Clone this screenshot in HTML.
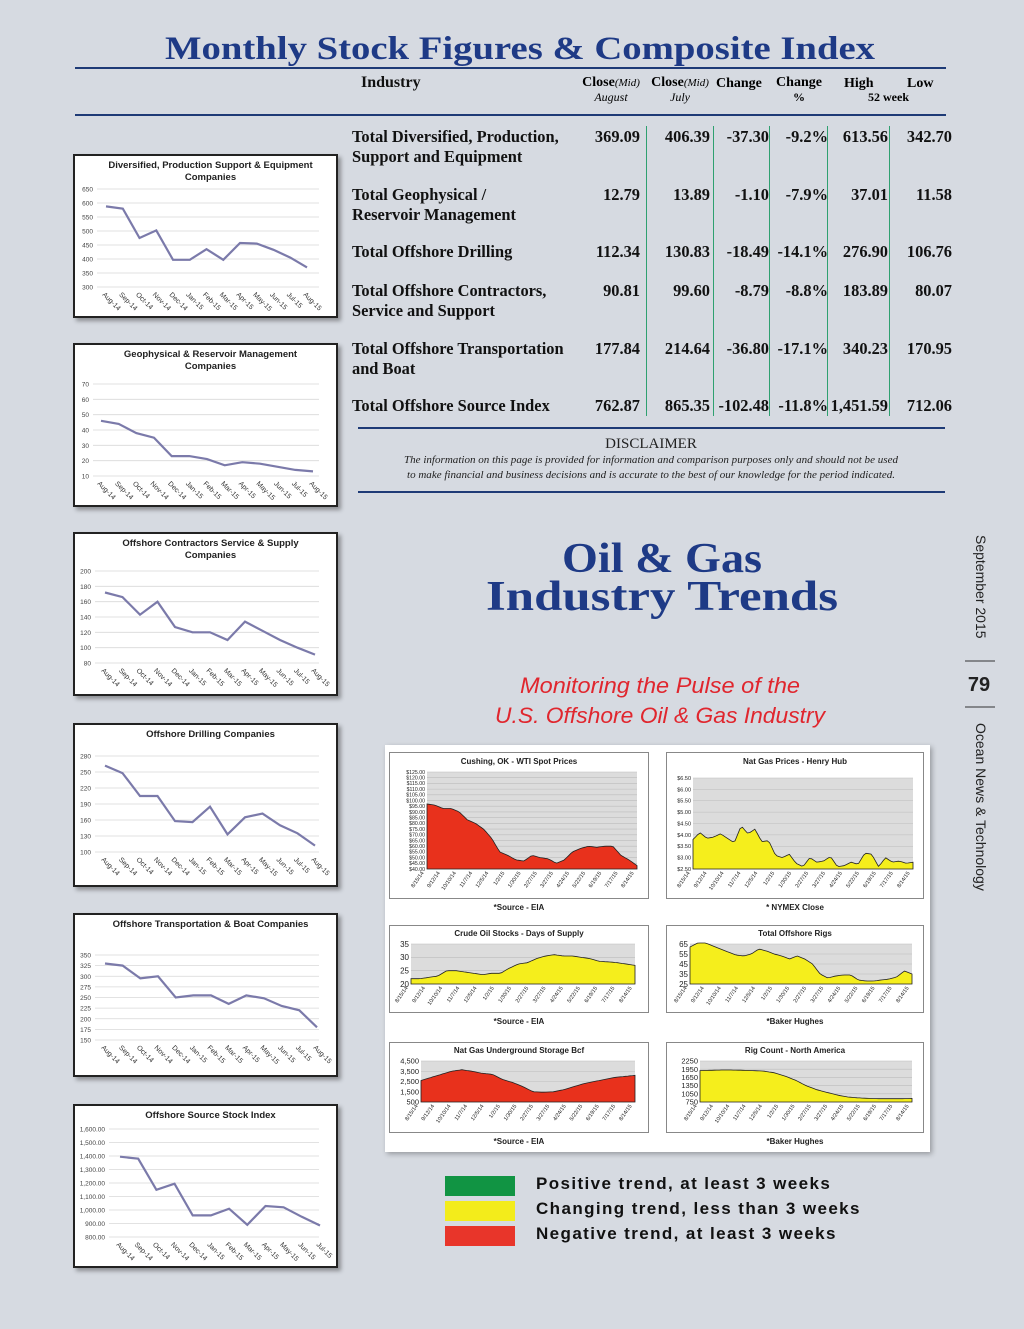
<!DOCTYPE html>
<html><head><meta charset="utf-8">
<style>
html,body{margin:0;padding:0}
body{width:1024px;height:1329px;background:#d6dae1;position:relative;overflow:hidden;font-family:"Liberation Serif",serif}
.a{position:absolute;white-space:nowrap}
.t{font-family:"Liberation Serif",serif;font-weight:bold;font-size:16.4px;color:#111}
.n{text-align:right}
.vl{position:absolute;width:1px;background:#2fa070;top:126px;height:290px}
.box{position:absolute;background:#fff;border:2px solid #222;box-shadow:3px 3px 4px rgba(0,0,0,.35)}
.lg{position:absolute;left:445px;width:70px;height:20px}
.lt{position:absolute;left:536px;font-family:"Liberation Sans",sans-serif;font-weight:bold;font-size:17px;letter-spacing:1.4px;color:#111}
</style></head><body>
<svg class="a" style="left:0;top:0" width="1024" height="130">
<text x="520" y="59" text-anchor="middle" textLength="710" lengthAdjust="spacingAndGlyphs" font-family="Liberation Serif" font-weight="bold" font-size="33" fill="#1e3a86">Monthly Stock Figures &amp; Composite Index</text>
<line x1="75" y1="68" x2="946" y2="68" stroke="#1e3a76" stroke-width="2"/>
<line x1="75" y1="115" x2="946" y2="115" stroke="#1e3a76" stroke-width="2"/>
</svg>
<div class="a t" style="left:361px;top:74px;font-size:16px">Industry</div>
<div class="a" style="left:578px;top:76px;font-size:14px;font-weight:bold;line-height:14px;text-align:center;width:66px">Close<i style="font-weight:normal;font-size:11px">(Mid)</i><br><i style="font-weight:normal;font-size:12px">August</i></div>
<div class="a" style="left:649px;top:76px;font-size:14px;font-weight:bold;line-height:14px;text-align:center;width:62px">Close<i style="font-weight:normal;font-size:11px">(Mid)</i><br><i style="font-weight:normal;font-size:12px">July</i></div>
<div class="a" style="left:716px;top:76px;font-size:14px;font-weight:bold">Change</div>
<div class="a" style="left:773px;top:76px;font-size:14px;font-weight:bold;line-height:14px;text-align:center;width:52px">Change<br><span style="font-size:12px">%</span></div>
<div class="a" style="left:844px;top:76px;font-size:14px;font-weight:bold">High</div>
<div class="a" style="left:907px;top:76px;font-size:14px;font-weight:bold">Low</div>
<div class="a" style="left:868px;top:90px;font-size:12px;font-weight:bold">52 week</div>

<div class="vl" style="left:646px"></div><div class="vl" style="left:713px"></div><div class="vl" style="left:769px"></div><div class="vl" style="left:827px"></div><div class="vl" style="left:889px"></div>
<div id="rows"></div>

<svg class="a" style="left:0;top:420px" width="1024" height="80">
<line x1="358" y1="8" x2="945" y2="8" stroke="#1e3a76" stroke-width="2"/>
<line x1="358" y1="72" x2="945" y2="72" stroke="#1e3a76" stroke-width="2"/>
<text x="651" y="28" text-anchor="middle" font-family="Liberation Serif" font-size="15" fill="#222">DISCLAIMER</text>
<text x="651" y="43" text-anchor="middle" textLength="494" lengthAdjust="spacingAndGlyphs" font-family="Liberation Serif" font-style="italic" font-size="10.5" fill="#222">The information on this page is provided for information and comparison purposes only and should not be used</text>
<text x="651" y="58" text-anchor="middle" textLength="488" lengthAdjust="spacingAndGlyphs" font-family="Liberation Serif" font-style="italic" font-size="10.5" fill="#222">to make financial and business decisions and is accurate to the best of our knowledge for the period indicated.</text>
</svg>

<svg class="a" style="left:380px;top:530px" width="560" height="210">
<text x="282" y="42" text-anchor="middle" textLength="200" lengthAdjust="spacingAndGlyphs" font-family="Liberation Serif" font-weight="bold" font-size="42" fill="#1e3a86">Oil &amp; Gas</text>
<text x="282" y="80" text-anchor="middle" textLength="352" lengthAdjust="spacingAndGlyphs" font-family="Liberation Serif" font-weight="bold" font-size="42" fill="#1e3a86">Industry Trends</text>
<text x="280" y="163" text-anchor="middle" textLength="280" lengthAdjust="spacingAndGlyphs" font-family="Liberation Sans" font-style="italic" font-size="22" fill="#e0262e">Monitoring the Pulse of the</text>
<text x="280" y="193" text-anchor="middle" textLength="330" lengthAdjust="spacingAndGlyphs" font-family="Liberation Sans" font-style="italic" font-size="22" fill="#e0262e">U.S. Offshore Oil &amp; Gas Industry</text>
</svg>

<svg class="a" style="left:950px;top:520px" width="74" height="400">
<text transform="translate(26,15) rotate(90)" font-family="Liberation Sans" font-size="14" fill="#222">September 2015</text>
<line x1="15" y1="141" x2="45" y2="141" stroke="#333"/>
<text x="29" y="171" text-anchor="middle" font-family="Liberation Sans" font-weight="bold" font-size="20" fill="#222">79</text>
<line x1="15" y1="187" x2="45" y2="187" stroke="#333"/>
<text transform="translate(26,203) rotate(90)" font-family="Liberation Sans" font-size="14" fill="#222">Ocean News &amp; Technology</text>
</svg>

<div class="a" style="left:385px;top:745px;width:545px;height:407px;background:#fff;box-shadow:2px 2px 5px rgba(0,0,0,.3)"></div>
<div id="charts"></div>

<div class="lg" style="top:1176px;background:#119443"></div>
<div class="lg" style="top:1201px;background:#f3ec1b"></div>
<div class="lg" style="top:1226px;background:#e8352a"></div>
<div class="lt" style="top:1174px">Positive trend, at least 3 weeks</div>
<div class="lt" style="top:1199px">Changing trend, less than 3 weeks</div>
<div class="lt" style="top:1224px">Negative trend, at least 3 weeks</div>

<script>
var rows=[
[135,["Total Diversified, Production,","Support and Equipment"],["369.09","406.39","-37.30","-9.2%","613.56","342.70"]],
[193,["Total Geophysical /","Reservoir Management"],["12.79","13.89","-1.10","-7.9%","37.01","11.58"]],
[250,["Total Offshore Drilling"],["112.34","130.83","-18.49","-14.1%","276.90","106.76"]],
[289,["Total Offshore Contractors,","Service and Support"],["90.81","99.60","-8.79","-8.8%","183.89","80.07"]],
[347,["Total Offshore Transportation","and Boat"],["177.84","214.64","-36.80","-17.1%","340.23","170.95"]],
[404,["Total Offshore Source Index"],["762.87","865.35","-102.48","-11.8%","1,451.59","712.06"]]];
var rights=[640,710,769,828,888,952];
var h="";
rows.forEach(function(r){
 r[1].forEach(function(l,i){h+='<div class="a t" style="left:352px;top:'+(r[0]-8+i*20)+'px">'+l+'</div>';});
 r[2].forEach(function(v,i){h+='<div class="a t n" style="right:'+(1024-rights[i])+'px;top:'+(r[0]-8)+'px">'+v+'</div>';});
});
document.getElementById("rows").innerHTML=h;

var mon=["Aug-14","Sep-14","Oct-14","Nov-14","Dec-14","Jan-15","Feb-15","Mar-15","Apr-15","May-15","Jun-15","Jul-15","Aug-15"];
var small=[
{y:154,t:["Diversified, Production Support & Equipment","Companies"],mn:300,mx:650,st:50,top:35,bot:133,gl:24,x0:33,x1:234,d:[588,580,475,502,397,397,435,397,457,455,433,405,370],fmt:0},
{y:343,t:["Geophysical & Reservoir Management","Companies"],mn:10,mx:70,st:10,top:41,bot:133,gl:20,x0:28,x1:240,d:[46,44,38,35,23,23,21,17,19,18,16,14,13],fmt:0},
{y:532,t:["Offshore Contractors Service & Supply","Companies"],mn:80,mx:200,st:20,top:39,bot:131,gl:22,x0:32,x1:242,d:[172,166,143,160,127,120,120,110,134,122,110,100,91],fmt:0},
{y:723,t:["Offshore Drilling Companies"],mn:100,mx:280,st:30,top:33,bot:129,gl:22,x0:32,x1:242,d:[262,248,205,205,158,156,185,133,165,172,150,135,112],fmt:0},
{y:913,t:["Offshore Transportation & Boat Companies"],mn:150,mx:350,st:25,top:42,bot:127,gl:22,x0:32,x1:244,d:[330,325,295,300,250,255,255,235,255,248,230,220,180],fmt:0},
{y:1104,t:["Offshore Source Stock Index"],mn:800,mx:1600,st:100,top:25,bot:133,gl:36,x0:47,x1:247,d:[1395,1380,1150,1195,960,960,1010,890,1030,1020,950,885],fmt:1}];
var out="";
small.forEach(function(c){
 var W=265,H=164,s='<svg width="'+W+'" height="'+H+'" font-family="Liberation Sans">';
 c.t.forEach(function(l,i){s+='<text x="'+(W/2+5)+'" y="'+(14+i*12)+'" text-anchor="middle" font-size="9.5" font-weight="bold" fill="#222">'+l.replace("&","&amp;")+'</text>';});
 for(var v=c.mn;v<=c.mx+1e-9;v+=c.st){var yy=c.bot-(v-c.mn)/(c.mx-c.mn)*(c.bot-c.top);
  s+='<line x1="'+c.gl+'" x2="246" y1="'+yy+'" y2="'+yy+'" stroke="#d8d8d8" stroke-width="0.8"/>';
  var lab=c.fmt?v.toLocaleString("en-US")+".00":v;
  s+='<text x="'+(c.gl-4)+'" y="'+(yy+2.5)+'" text-anchor="end" font-size="6.5" fill="#444">'+lab+'</text>';}
 var n=c.d.length,p="";
 c.d.forEach(function(v,i){var x=c.x0+(c.x1-c.x0)*i/(n-1),yy=c.bot-(v-c.mn)/(c.mx-c.mn)*(c.bot-c.top);p+=(i?"L":"M")+x.toFixed(1)+" "+yy.toFixed(1);
  s+='<text transform="translate('+(x-4)+','+(c.bot+8)+') rotate(45)" font-size="7" fill="#333">'+mon[i]+'</text>';});
 s+='<path d="'+p+'" fill="none" stroke="#7b7aaa" stroke-width="2.2"/></svg>';
 out+='<div class="box" style="left:73px;top:'+c.y+'px;width:261px;height:160px;overflow:hidden"><div style="margin:-2px">'+s+'</div></div>';
});

var dl=["8/15/14","9/12/14","10/10/14","11/7/14","12/5/14","1/2/15","1/30/15","2/27/15","3/27/15","4/24/15","5/22/15","6/19/15","7/17/15","8/14/15"];
function interp(a,k){var r=[];for(var i=0;i<k;i++){var t=i/(k-1)*(a.length-1),j=Math.floor(t),f=t-j;r.push(j>=a.length-1?a[a.length-1]:a[j]*(1-f)+a[j+1]*f);}return r;}
var big=[
{x:389,y:752,w:260,h:147,title:"Cushing, OK  - WTI Spot Prices",src:"*Source - EIA",px0:38,px1:248,pt:20,pb:117,mn:40,mx:125,st:5,fmt:function(v){return "$"+v+".00"},fs:5.2,col:"#e8311c",d:[97,96,93,93,90,83,80,75,67,55,52,48,47,52,50,49,45,48,55,58,60,59,60,60,52,48,43]},
{x:666,y:752,w:258,h:147,title:"Nat Gas Prices - Henry Hub",src:"* NYMEX Close",px0:27,px1:247,pt:26,pb:117,mn:2.5,mx:6.5,st:0.5,fmt:function(v){return "$"+v.toFixed(2)},fs:5.5,col:"#f5ee1c",d:[3.8,4.1,3.85,3.9,4.05,3.85,3.65,4.4,4.05,4.25,3.7,3.75,3.1,3.0,3.15,2.75,2.6,3.0,2.8,2.85,3.05,2.6,2.65,2.8,2.7,3.2,3.15,2.6,3.0,2.8,2.85,2.75,2.8]},
{x:389,y:925,w:260,h:88,title:"Crude Oil Stocks - Days of Supply",src:"*Source - EIA",px0:22,px1:246,pt:19,pb:59,mn:20,mx:35,st:5,fmt:function(v){return v},fs:8,col:"#f5ee1c",d:[22,22,22.5,23,25,25,24.5,24,23.5,24,24,26,27.5,28,29.5,30.5,31,30.5,30.5,30,29.5,28.5,28.3,28,27.5,27]},
{x:666,y:925,w:258,h:88,title:"Total Offshore Rigs",src:"*Baker Hughes",px0:24,px1:246,pt:19,pb:59,mn:25,mx:65,st:10,fmt:function(v){return v},fs:8,col:"#f5ee1c",d:[62,66,66,63,60,57,54,53,55,60,58,55,53,50,53,50,45,35,31,33,34,34,29,28,28,29,30,32,38,35]},
{x:389,y:1042,w:260,h:91,title:"Nat Gas Underground Storage Bcf",src:"*Source - EIA",px0:32,px1:246,pt:19,pb:60,mn:500,mx:4500,st:1000,fmt:function(v){return v.toLocaleString("en-US")},fs:7.5,col:"#e8311c",d:[2600,2900,3200,3500,3650,3500,3300,3200,2700,2400,2000,1500,1450,1500,1700,2000,2300,2500,2700,2900,3000,3100]},
{x:666,y:1042,w:258,h:91,title:"Rig Count - North America",src:"*Baker Hughes",px0:34,px1:246,pt:19,pb:60,mn:750,mx:2250,st:300,fmt:function(v){return v},fs:7.5,col:"#f5ee1c",d:[1900,1910,1920,1920,1910,1900,1880,1820,1700,1550,1350,1200,1100,1000,930,900,880,870,870,870,880]}];
big.forEach(function(c){
 var s='<svg class="a" style="left:'+c.x+'px;top:'+c.y+'px;overflow:visible" width="'+c.w+'" height="'+c.h+'" font-family="Liberation Sans">';
 s+='<rect x="0.5" y="0.5" width="'+(c.w-1)+'" height="'+(c.h-1)+'" fill="#fff" stroke="#888"/>';
 s+='<text x="'+(c.w/2)+'" y="'+(c.h>100?12:11)+'" text-anchor="middle" font-size="8" font-weight="bold" fill="#222">'+c.title.replace("&","&amp;")+'</text>';
 s+='<rect x="'+c.px0+'" y="'+c.pt+'" width="'+(c.px1-c.px0)+'" height="'+(c.pb-c.pt)+'" fill="#dcdcdc"/>';
 for(var v=c.mn;v<=c.mx+1e-9;v+=c.st){var yy=c.pb-(v-c.mn)/(c.mx-c.mn)*(c.pb-c.pt);
  s+='<line x1="'+c.px0+'" x2="'+c.px1+'" y1="'+yy+'" y2="'+yy+'" stroke="#bdbdbd" stroke-width="0.6"/>';
  s+='<text x="'+(c.px0-2)+'" y="'+(yy+c.fs*0.35)+'" text-anchor="end" font-size="'+c.fs+'" fill="#222">'+c.fmt(v)+'</text>';}
 var pts=interp(c.d,90),p="M"+c.px0+" "+c.pb;
 pts.forEach(function(v,i){var x=c.px0+(c.px1-c.px0)*i/89,yy=c.pb-(v-c.mn)/(c.mx-c.mn)*(c.pb-c.pt);p+="L"+x.toFixed(1)+" "+yy.toFixed(1);});
 p+="L"+c.px1+" "+c.pb+"Z";
 s+='<path d="'+p+'" fill="'+c.col+'" stroke="#222" stroke-width="0.8"/>';
 dl.forEach(function(l,i){var x=c.px0+(c.px1-c.px0)*i/13;
  s+='<text transform="translate('+(x-3)+','+(c.pb+4)+') rotate(-55)" text-anchor="end" font-size="5.5" fill="#222">'+l+'</text>';});
 s+='<text x="'+(c.w/2)+'" y="'+(c.h+11)+'" text-anchor="middle" font-size="8" font-weight="bold" fill="#222">'+c.src+'</text></svg>';
 out+=s;
});
document.getElementById("charts").innerHTML=out;
</script>
</body></html>
